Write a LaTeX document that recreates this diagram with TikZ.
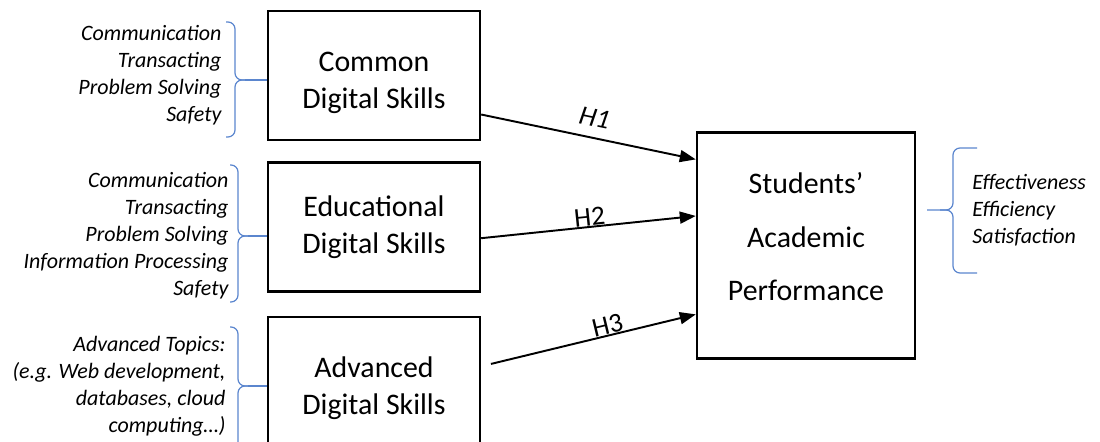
\documentclass[tikz,border=0pt]{standalone}
\usepackage{fontspec}
\setmainfont{Carlito}
\usetikzlibrary{positioning}
\usetikzlibrary{arrows.meta, calc}
\definecolor{braceblue}{RGB}{91,134,206}
\tikzstyle{skill} = [rectangle, minimum width=4.24cm, minimum height=2.58cm, text centered, align=center, draw=black, line width=1.4pt, font=\fontsize{17}{21}\selectfont]
\tikzstyle{outcome} = [rectangle, minimum width=4.36cm, minimum height=4.52cm, text centered, align=center, draw=black, line width=1.4pt, font=\fontsize{17}{30.7}\selectfont]
\tikzstyle{items} = [inner sep=0pt, align=right, font=\fontsize{12.5}{15.4}\selectfont\itshape]
\tikzstyle{curly} = [draw=braceblue, line width=0.7pt, rounded corners=0.14cm]
\tikzstyle{arrow} = [line width=1.1pt, -{Triangle[length=0.32cm,width=0.24cm]}]
\tikzstyle{hyp} = [font=\fontsize{15.5}{18}\selectfont, sloped, above, inner sep=0pt]

\begin{document}
\begin{tikzpicture}[x=0.02cm, y=-0.02cm]
    \useasboundingbox (0,0) rectangle (1100,442);

    % Nodes
    \node (common) [skill] at (374,75.5) {\rule{0pt}{0.7cm}Common\\Digital Skills};
    \node (edu) [skill, below=0.4cm of common] {Educational\\Digital Skills};
    \node (adv) [skill, below=0.46cm of edu] {\rule{0pt}{0.7cm}Advanced\\Digital Skills};
    \node (students) [outcome] at (806,245.5) {Students'\\Academic\\Performance\\[-0.72cm]};

    % Sub-skills
    \node (commonitems) [items, left=0.9cm of common] {Communication\\Transacting\\Problem Solving\\Safety};
    \node (eduitems) [items, left=0.76cm of edu, yshift=-0.18cm] {Communication\\Transacting\\Problem Solving\\Information Processing\\Safety};
    \node (advitems) [items, left=0.82cm of adv, yshift=-0.1cm] {Advanced Topics:\\(e.g. Web development,\\databases, cloud\\computing\dots)};
    \node (outitems) [items, align=left, anchor=west] at (972,210) {Effectiveness\\Efficiency\\Satisfaction};

    % Braces
    \draw [curly] (226,22) -- (235,22) -- (235,80) -- (245,80);
    \draw [curly] (226,137) -- (235,137) -- (235,80) -- (245,80);
    \coordinate (tip1) at (245,80);
    \draw [curly] (tip1) -- (common.west |- tip1);

    \draw [curly] (230,165) -- (238,165) -- (238,236) -- (248,236);
    \draw [curly] (230,302) -- (238,302) -- (238,236) -- (248,236);
    \coordinate (tip2) at (248,236);
    \draw [curly] (tip2) -- (edu.west |- tip2);

    \draw [curly] (230,327) -- (238,327) -- (238,386) -- (248,386);
    \draw [curly] (230,450) -- (238,450) -- (238,386) -- (248,386);
    \coordinate (tip3) at (248,386);
    \draw [curly] (tip3) -- (adv.west |- tip3);

    \draw [curly] (977,148) -- (953,148) -- (953,210) -- (927,210);
    \draw [curly] (977,273) -- (953,273) -- (953,210) -- (940,210);

    % Hypotheses
    \draw [arrow] (common.-20.4) -- node[hyp, pos=0.51, above=0.2cm] {\itshape H1} (students.142.5);
    \draw [arrow] (edu.-6.5) -- node[hyp, pos=0.51] {H2} (students.165.3);
    \draw [arrow, shorten <=0.2cm] (adv.8) -- node[hyp, pos=0.6] {H3} (students.212.5);

\end{tikzpicture}
\end{document}
